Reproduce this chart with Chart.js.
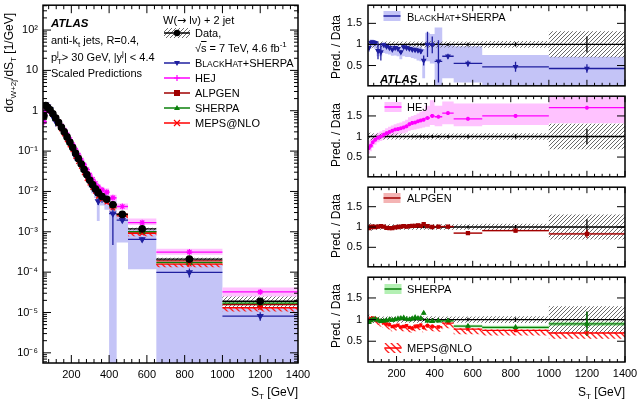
<!DOCTYPE html>
<html>
<head>
<meta charset="utf-8">
<script src="https://cdn.jsdelivr.net/npm/chart.js@4.4.1/dist/chart.umd.min.js"></script>
<style>
  body { margin: 0; background: #fff; }
  #wrap { position: relative; width: 638px; height: 403px; overflow: hidden; font-family: "Liberation Sans", Arial, sans-serif; color: #000; }
  canvas { position: absolute; }
  .t { position: absolute; white-space: nowrap; font-size: 11px; line-height: 12px; }
  .t sub, .t sup { font-size: 8px; line-height: 0; }
  .rot { transform: rotate(-90deg); transform-origin: 0 0; text-align: right; font-size: 12px; }
  .atlas { font-weight: bold; font-style: italic; font-size: 11.5px; }
  .sc { font-size: 8.5px; }
  .ax { font-size: 12px; text-align: right; width: 80px; }
  .dv { font-family: "DejaVu Sans", sans-serif; font-size: 11px; }
</style>
</head>
<body>
<div id="wrap">
  <canvas id="main" width="320" height="403" style="left:0;top:0"></canvas>
  <canvas id="r1" width="318" height="91" style="left:320px;top:0"></canvas>
  <canvas id="r2" width="318" height="91" style="left:320px;top:91px"></canvas>
  <canvas id="r3" width="318" height="90" style="left:320px;top:182px"></canvas>
  <canvas id="r4" width="318" height="131" style="left:320px;top:272px"></canvas>

  <div class="t rot" style="left:3px;top:113px;width:100px">d&sigma;<sub>W+2j</sub>/dS<sub>T</sub> [1/GeV]</div>
  <div class="t ax" style="left:218px;top:386px">S<sub>T</sub> [GeV]</div>
  <div class="t ax" style="left:545px;top:386px">S<sub>T</sub> [GeV]</div>

  <div class="t atlas" style="left:51px;top:17px">ATLAS</div>
  <div class="t" style="left:51px;top:34px">anti-k<sub>t</sub> jets, R=0.4,</div>
  <div class="t" style="left:51px;top:51px">p<sub>T</sub><sup style="margin-left:-5px">j</sup> &gt; 30 GeV, |y<sup>j</sup>| &lt; 4.4</div>
  <div class="t" style="left:51px;top:67px">Scaled Predictions</div>

  <div class="t" style="left:163px;top:14px">W(<span class="dv">&rarr;</span> l&nu;) + 2 jet</div>
  <div class="t" style="left:195px;top:27px">Data,</div>
  <div class="t" style="left:195px;top:42px">&radic;<span style="text-decoration:overline">s</span> = 7 TeV, 4.6 fb<sup>-1</sup></div>
  <div class="t" style="left:195px;top:57px">B<span class="sc">LACK</span>H<span class="sc">AT</span>+SHERPA</div>
  <div class="t" style="left:195px;top:72px">HEJ</div>
  <div class="t" style="left:195px;top:87px">ALPGEN</div>
  <div class="t" style="left:195px;top:102px">SHERPA</div>
  <div class="t" style="left:195px;top:117px">MEPS@NLO</div>

  <div class="t rot" style="left:330px;top:83px;width:68px">Pred. / Data</div>
  <div class="t rot" style="left:330px;top:171px;width:68px">Pred. / Data</div>
  <div class="t rot" style="left:330px;top:262px;width:68px">Pred. / Data</div>
  <div class="t rot" style="left:330px;top:352px;width:68px">Pred. / Data</div>

  <div class="t" style="left:407px;top:11px">B<span class="sc">LACK</span>H<span class="sc">AT</span>+SHERPA</div>
  <div class="t atlas" style="left:380px;top:73px">ATLAS</div>
  <div class="t" style="left:407px;top:101px">HEJ</div>
  <div class="t" style="left:407px;top:192px">ALPGEN</div>
  <div class="t" style="left:407px;top:283px">SHERPA</div>
  <div class="t" style="left:407px;top:342px">MEPS@NLO</div>
</div>
<script>
// S_T bins [GeV]
const binLo = [50, 60, 70, 80, 95, 110, 125, 140, 155, 170, 185, 200, 215, 230, 245, 260, 275, 290, 305, 320, 335, 350, 375, 400, 440, 500, 650, 1000];
const binHi = [60, 70, 80, 95, 110, 125, 140, 155, 170, 185, 200, 215, 230, 245, 260, 275, 290, 305, 320, 335, 350, 375, 400, 440, 500, 650, 1000, 1400];

// measured cross section [1/GeV] and relative uncertainties
const dataXs = [0.75, 1.35, 1.2, 1.05, 0.84, 0.66, 0.51, 0.39, 0.30, 0.225, 0.165, 0.122, 0.088, 0.065, 0.048, 0.035, 0.026, 0.019, 0.0146, 0.0115, 0.0092, 0.0075, 0.0064, 0.0047, 0.0027, 0.00118, 0.00021, 0.000019];
const dataStat = [0.015, 0.01, 0.01, 0.01, 0.01, 0.01, 0.01, 0.01, 0.01, 0.012, 0.012, 0.014, 0.015, 0.017, 0.02, 0.02, 0.022, 0.025, 0.027, 0.03, 0.03, 0.03, 0.035, 0.03, 0.035, 0.04, 0.05, 0.19];
const dataSys = [0.11, 0.09, 0.08, 0.075, 0.07, 0.07, 0.07, 0.07, 0.07, 0.07, 0.07, 0.07, 0.07, 0.07, 0.07, 0.07, 0.07, 0.07, 0.07, 0.07, 0.07, 0.07, 0.075, 0.07, 0.07, 0.07, 0.08, 0.31];

// prediction / data
const bhRatio = [0.92, 1.05, 1.06, 1.04, 0.85, 0.82, 0.99, 0.95, 0.92, 0.88, 0.92, 0.90, 0.82, 0.94, 0.92, 0.90, 0.88, 0.87, 0.86, 0.84, 0.62, 1.0, 0.99, 0.60, 0.72, 0.55, 0.47, 0.43];
const bhErr = [0.05, 0.03, 0.03, 0.03, 0.2, 0.2, 0.03, 0.03, 0.03, 0.03, 0.04, 0.04, 0.04, 0.04, 0.04, 0.04, 0.05, 0.05, 0.05, 0.06, 0.12, 0.3, 0.2, 0.5, 0.06, 0.07, 0.12, 0.1];
const bhLo = [0.82, 0.95, 0.95, 0.9, 0.72, 0.72, 0.8, 0.78, 0.76, 0.73, 0.74, 0.72, 0.65, 0.72, 0.7, 0.7, 0.68, 0.66, 0.62, 0.6, 0.2, 0.6, 0.55, 0.0, 0.2, 0.1, 0.0, 0.0];
const bhHi = [1.05, 1.12, 1.12, 1.1, 1.0, 1.0, 1.05, 1.02, 1.0, 0.98, 0.98, 0.98, 0.95, 1.0, 0.98, 0.98, 0.97, 0.96, 0.96, 0.95, 0.9, 1.28, 1.25, 1.4, 0.98, 0.96, 0.75, 0.71];

const hejRatio = [0.72, 0.78, 0.86, 0.92, 0.97, 1.0, 1.04, 1.08, 1.11, 1.14, 1.17, 1.18, 1.2, 1.22, 1.25, 1.3, 1.33, 1.34, 1.37, 1.39, 1.41, 1.45, 1.5, 1.48, 1.57, 1.43, 1.5, 1.7];
const hejErr = [0.02, 0.015, 0.015, 0.015, 0.015, 0.015, 0.015, 0.015, 0.015, 0.015, 0.015, 0.015, 0.015, 0.015, 0.015, 0.015, 0.015, 0.015, 0.015, 0.015, 0.015, 0.02, 0.02, 0.02, 0.02, 0.01, 0.01, 0.01];
const hejLo = [0.58, 0.64, 0.72, 0.8, 0.86, 0.89, 0.93, 0.96, 0.99, 1.01, 1.04, 1.05, 1.07, 1.08, 1.1, 1.14, 1.16, 1.17, 1.19, 1.2, 1.22, 1.24, 1.28, 1.25, 1.3, 1.25, 1.28, 1.32];
const hejHi = [0.9, 0.95, 1.0, 1.05, 1.09, 1.12, 1.16, 1.2, 1.24, 1.27, 1.3, 1.32, 1.34, 1.37, 1.41, 1.47, 1.5, 1.52, 1.56, 1.6, 1.63, 1.75, 1.88, 1.75, 1.85, 1.8, 1.8, 2.2];

const alpRatio = [0.97, 1.0, 1.01, 1.0, 1.01, 1.02, 1.01, 0.98, 0.97, 0.97, 0.99, 1.0, 1.01, 1.02, 1.01, 1.02, 1.03, 1.03, 1.04, 1.03, 1.07, 1.02, 1.0, 1.01, 1.01, 0.85, 0.91, 0.83];
const alpErr = [0.02, 0.01, 0.01, 0.01, 0.01, 0.01, 0.01, 0.01, 0.01, 0.01, 0.01, 0.01, 0.01, 0.01, 0.01, 0.01, 0.01, 0.01, 0.015, 0.015, 0.02, 0.02, 0.02, 0.02, 0.02, 0.03, 0.04, 0.1];
const alpUnc = [0.04, 0.03, 0.03, 0.03, 0.03, 0.03, 0.03, 0.03, 0.03, 0.03, 0.03, 0.03, 0.03, 0.03, 0.03, 0.03, 0.03, 0.03, 0.03, 0.03, 0.03, 0.03, 0.03, 0.03, 0.03, 0.02, 0.02, 0.03];

const shRatio = [0.94, 0.98, 1.0, 1.01, 0.99, 0.96, 0.97, 0.98, 1.0, 0.99, 1.0, 1.02, 1.03, 1.04, 1.01, 1.0, 1.02, 1.05, 1.03, 1.03, 1.15, 0.97, 0.96, 0.97, 0.97, 0.85, 0.82, 0.9];
const shErr = [0.03, 0.02, 0.02, 0.02, 0.02, 0.02, 0.02, 0.02, 0.02, 0.02, 0.02, 0.02, 0.02, 0.02, 0.02, 0.02, 0.02, 0.03, 0.03, 0.03, 0.04, 0.04, 0.04, 0.03, 0.03, 0.03, 0.06, 0.28];
const shUnc = [0.03, 0.03, 0.03, 0.03, 0.03, 0.03, 0.03, 0.03, 0.03, 0.03, 0.03, 0.03, 0.03, 0.03, 0.03, 0.03, 0.03, 0.03, 0.03, 0.03, 0.03, 0.03, 0.03, 0.03, 0.03, 0.03, 0.04, 0.05];

const mepsRatio = [1.0, 1.03, 1.04, 1.02, 0.98, 0.95, 0.92, 0.9, 0.88, 0.84, 0.85, 0.87, 0.83, 0.84, 0.86, 0.82, 0.8, 0.84, 0.85, 0.87, 0.82, 0.86, 0.84, 0.83, 0.92, 0.78, 0.75, 0.69];
const mepsErr = [0.04, 0.03, 0.03, 0.03, 0.03, 0.03, 0.03, 0.04, 0.04, 0.04, 0.04, 0.04, 0.04, 0.04, 0.04, 0.04, 0.05, 0.05, 0.05, 0.05, 0.05, 0.05, 0.05, 0.04, 0.04, 0.03, 0.04, 0.06];
const mepsLo = [0.9, 0.92, 0.93, 0.91, 0.87, 0.84, 0.81, 0.79, 0.77, 0.73, 0.74, 0.76, 0.72, 0.73, 0.75, 0.71, 0.69, 0.73, 0.74, 0.76, 0.71, 0.75, 0.73, 0.72, 0.8, 0.66, 0.63, 0.56];
const mepsHi = [1.02, 1.05, 1.06, 1.04, 1.0, 0.97, 0.94, 0.92, 0.9, 0.86, 0.87, 0.89, 0.85, 0.86, 0.88, 0.84, 0.82, 0.86, 0.87, 0.89, 0.84, 0.88, 0.86, 0.85, 0.94, 0.8, 0.77, 0.71];

// axes
const xTickVals = [200, 400, 600, 800, 1000, 1200, 1400];
const yLogTicks = [1e-6, 1e-5, 1e-4, 1e-3, 1e-2, 1e-1, 1, 10, 100];
const yLogLabels = ['10⁻⁶', '10⁻⁵', '10⁻⁴', '10⁻³', '10⁻²', '10⁻¹', '1', '10', '10²'];
const ratioTicks = [0.5, 1, 1.5];
const ratioLabels = ['0.5', '1', '1.5'];

const cBH = '#1f1f9f', cBHband = '#c4c4f7';
const cHEJ = '#ff00ff', cHEJband = '#ffc2ff';
const cALP = '#a00000', cALPband = '#f4b4b4';
const cSH = '#0b800b', cSHband = '#b4f0b4';
const cMEPS = '#ff0000';
const font = { family: '"Liberation Sans", Arial, sans-serif', size: 11 };

const mid = binLo.map((lo, i) => (lo + binHi[i]) / 2);
const LOGFLOOR = 1e-9;

function hatch(color, size, width, dir) {
  const c = document.createElement('canvas');
  c.width = size; c.height = size;
  const g = c.getContext('2d');
  g.strokeStyle = color; g.lineWidth = width;
  g.beginPath();
  if (dir > 0) {
    g.moveTo(-1, size + 1); g.lineTo(size + 1, -1);
    g.moveTo(-size / 2, size / 2); g.lineTo(size / 2, -size / 2);
    g.moveTo(size / 2, size * 1.5); g.lineTo(size * 1.5, size / 2);
  } else {
    g.moveTo(-1, -1); g.lineTo(size + 1, size + 1);
    g.moveTo(-size / 2, size / 2); g.lineTo(size / 2, size * 1.5);
    g.moveTo(size / 2, -size / 2); g.lineTo(size * 1.5, size / 2);
  }
  g.stroke();
  return g.createPattern(c, 'repeat');
}
const greyHatch = hatch('#444', 4, 0.8, 1);
const redHatch = hatch('#ff2020', 6, 1.3, -1);

function steps(vals, floor) {
  const pts = [];
  vals.forEach((v, i) => {
    const y = floor ? Math.max(v, floor) : v;
    pts.push({ x: binLo[i], y }, { x: binHi[i], y });
  });
  return pts;
}

function bandSet(lo, hi, fill, order, floor) {
  return {
    data: steps(hi, floor).concat(steps(lo, floor).reverse()),
    fill: 'shape', backgroundColor: fill, borderColor: 'transparent', borderWidth: 0,
    pointRadius: 0, order
  };
}

function barSet(vals, lo, hi, color, order, floor) {
  const pts = [];
  const f = v => floor ? Math.max(v, floor) : v;
  vals.forEach((v, i) => {
    pts.push({ x: binLo[i], y: v }, { x: binHi[i], y: v }, { x: binHi[i], y: null });
    pts.push({ x: mid[i], y: f(lo[i]) }, { x: mid[i], y: f(hi[i]) }, { x: mid[i], y: null });
  });
  return { data: pts, borderColor: color, borderWidth: 1.3, pointRadius: 0, fill: false, spanGaps: false, order };
}

function markSet(vals, style, color, r, rot, order) {
  return {
    data: vals.map((v, i) => ({ x: mid[i], y: v })), showLine: false,
    pointStyle: style, pointRadius: r, pointRotation: rot || 0,
    backgroundColor: color, borderColor: color, borderWidth: 1.2, order
  };
}

function drawMark(ctx, m, x, y, r, c) {
  ctx.fillStyle = c; ctx.strokeStyle = c; ctx.lineWidth = 1.2;
  ctx.beginPath();
  if (m === 'circle') { ctx.arc(x, y, r, 0, Math.PI * 2); ctx.fill(); }
  else if (m === 'rect') { ctx.fillRect(x - r, y - r, 2 * r, 2 * r); }
  else if (m === 'tri' || m === 'tridown') {
    const d = m === 'tri' ? -1 : 1;
    ctx.moveTo(x, y + d * r); ctx.lineTo(x - r, y - d * r * 0.7); ctx.lineTo(x + r, y - d * r * 0.7);
    ctx.closePath(); ctx.fill();
  }
  else if (m === 'cross') { ctx.moveTo(x - r, y - r); ctx.lineTo(x + r, y + r); ctx.moveTo(x + r, y - r); ctx.lineTo(x - r, y + r); ctx.stroke(); }
  else if (m === 'star') { ctx.moveTo(x - r, y); ctx.lineTo(x + r, y); ctx.moveTo(x, y - r); ctx.lineTo(x, y + r); ctx.stroke(); }
}

// legend symbols (not data, fixed spots in the pad)
const symPlugin = {
  id: 'syms',
  afterDraw(chart, args, o) {
    const ctx = chart.ctx;
    (o.items || []).forEach(s => {
      ctx.save();
      if (s.box) { ctx.fillStyle = s.box; ctx.fillRect(s.x - s.w / 2, s.y - 5, s.w, 10); }
      if (s.line) {
        ctx.strokeStyle = s.line; ctx.lineWidth = 1.5;
        ctx.beginPath(); ctx.moveTo(s.x - s.w / 2, s.y); ctx.lineTo(s.x + s.w / 2, s.y); ctx.stroke();
      }
      if (s.mark) drawMark(ctx, s.mark, s.x, s.y, s.r || 3, s.line);
      ctx.restore();
    });
  }
};

// ROOT style frame with ticks pointing inwards on all four sides
const framePlugin = {
  id: 'frame',
  afterDraw(chart, args, o) {
    const { ctx, chartArea: a } = chart;
    const xs = chart.scales.x, ys = chart.scales.y;
    ctx.save();
    ctx.strokeStyle = '#000'; ctx.lineWidth = 1;
    ctx.beginPath();
    for (let v = 80; v <= 1400; v += 40) {
      const p = xs.getPixelForValue(v);
      const len = xTickVals.includes(v) ? o.xMaj : o.xMin;
      ctx.moveTo(p, a.bottom); ctx.lineTo(p, a.bottom - len);
      ctx.moveTo(p, a.top); ctx.lineTo(p, a.top + len);
    }
    const yt = (v, len) => {
      const p = ys.getPixelForValue(v);
      if (p < a.top || p > a.bottom) return;
      ctx.moveTo(a.left, p); ctx.lineTo(a.left + len, p);
      ctx.moveTo(a.right, p); ctx.lineTo(a.right - len, p);
    };
    o.yMajor.forEach(v => yt(v, o.yMaj));
    if (o.log) {
      for (let e = -7; e <= 2; e++) for (let k = 2; k <= 9; k++) yt(k * Math.pow(10, e), o.yMin);
    }
    ctx.stroke();
    ctx.lineWidth = 1.5;
    ctx.strokeRect(a.left, a.top, a.right - a.left, a.bottom - a.top);
    ctx.restore();
  }
};

function xScale(show, h) {
  return {
    type: 'linear', min: 50, max: 1400, bounds: 'data', display: show,
    afterBuildTicks: s => { s.ticks = xTickVals.map(v => ({ value: v })); },
    afterFit: s => { s.height = show ? h : 0; s.paddingLeft = 0; s.paddingRight = 0; },
    grid: { display: false, drawTicks: false }, border: { display: false },
    ticks: { font, color: '#000', padding: 5, autoSkip: false, maxRotation: 0, callback: v => String(v) }
  };
}

function yFit(w) {
  return s => { s.width = w; s.paddingTop = 0; s.paddingBottom = 0; };
}

// ---------- main cross-section pad ----------
const abs = r => r.map((v, i) => v * dataXs[i]);
const absErr = (r, e, s) => r.map((v, i) => (v + s * e[i]) * dataXs[i]);
const ones = dataXs.map(() => 1);

const mainSets = [
  bandSet(abs(bhLo), abs(bhHi), cBHband, 90, LOGFLOOR),
  bandSet(abs(hejLo), abs(hejHi), cHEJband, 89, LOGFLOOR),
  bandSet(absErr(alpRatio, alpUnc, -1), absErr(alpRatio, alpUnc, 1), cALPband, 88, LOGFLOOR),
  bandSet(absErr(shRatio, shUnc, -1), absErr(shRatio, shUnc, 1), cSHband, 87, LOGFLOOR),
  bandSet(abs(mepsLo), abs(mepsHi), redHatch, 86, LOGFLOOR),
  bandSet(absErr(ones, dataSys, -1), absErr(ones, dataSys, 1), greyHatch, 85, LOGFLOOR),
  barSet(abs(bhRatio), absErr(bhRatio, bhErr, -1), absErr(bhRatio, bhErr, 1), cBH, 60, LOGFLOOR),
  barSet(abs(hejRatio), absErr(hejRatio, hejErr, -1), absErr(hejRatio, hejErr, 1), cHEJ, 59, LOGFLOOR),
  barSet(abs(alpRatio), absErr(alpRatio, alpErr, -1), absErr(alpRatio, alpErr, 1), cALP, 58, LOGFLOOR),
  barSet(abs(shRatio), absErr(shRatio, shErr, -1), absErr(shRatio, shErr, 1), cSH, 57, LOGFLOOR),
  barSet(abs(mepsRatio), absErr(mepsRatio, mepsErr, -1), absErr(mepsRatio, mepsErr, 1), cMEPS, 56, LOGFLOOR),
  markSet(abs(bhRatio), 'triangle', cBH, 3, 180, 40),
  markSet(abs(hejRatio), 'star', cHEJ, 3, 0, 39),
  markSet(abs(alpRatio), 'rect', cALP, 3, 0, 38),
  markSet(abs(shRatio), 'triangle', cSH, 3, 0, 37),
  markSet(abs(mepsRatio), 'crossRot', cMEPS, 3, 0, 36),
  barSet(dataXs, absErr(ones, dataStat, -1), absErr(ones, dataStat, 1), '#000', 20, LOGFLOOR),
  markSet(dataXs, 'circle', '#000', 3.2, 0, 10)
];

new Chart(document.getElementById('main'), {
  type: 'line',
  data: { datasets: mainSets },
  plugins: [framePlugin, symPlugin],
  options: {
    responsive: false, animation: false, events: [],
    layout: { padding: { top: 3, right: 22, bottom: 0, left: 0 } },
    plugins: {
      legend: { display: false }, tooltip: { enabled: false },
      frame: { xMaj: 8, xMin: 4, yMaj: 8, yMin: 4, yMajor: yLogTicks, log: true },
      syms: {
        items: [
          { x: 177, y: 33, w: 26, box: greyHatch, line: '#000', mark: 'circle', r: 3.2 },
          { x: 177, y: 63, w: 26, line: cBH, mark: 'tridown' },
          { x: 177, y: 78, w: 26, line: cHEJ, mark: 'star' },
          { x: 177, y: 93, w: 26, line: cALP, mark: 'rect' },
          { x: 177, y: 108, w: 26, line: cSH, mark: 'tri' },
          { x: 177, y: 123, w: 26, line: cMEPS, mark: 'cross' }
        ]
      }
    },
    scales: {
      x: xScale(true, 40),
      y: {
        type: 'logarithmic', min: 5.6e-7, max: 413, bounds: 'data',
        afterBuildTicks: s => { s.ticks = yLogTicks.map(v => ({ value: v })); },
        afterFit: yFit(43),
        grid: { display: false, drawTicks: false }, border: { display: false },
        ticks: { font, color: '#000', padding: 5, autoSkip: false, callback: (v, i) => yLogLabels[i] }
      }
    }
  }
});

// ---------- ratio pads ----------
const dataRatioSets = [
  bandSet(ones.map((v, i) => v - dataSys[i]), ones.map((v, i) => v + dataSys[i]), greyHatch, 85),
  barSet(ones, ones.map((v, i) => v - dataStat[i]), ones.map((v, i) => v + dataStat[i]), '#000', 45)
];
const minus = (r, e) => r.map((v, i) => v - e[i]);
const plus = (r, e) => r.map((v, i) => v + e[i]);

function ratioPad(id, sets, syms, showX, yMax, padTop) {
  new Chart(document.getElementById(id), {
    type: 'line',
    data: { datasets: sets.concat(dataRatioSets) },
    plugins: [framePlugin, symPlugin],
    options: {
      responsive: false, animation: false, events: [],
      layout: { padding: { top: padTop, right: 13, bottom: 0, left: 0 } },
      plugins: {
        legend: { display: false }, tooltip: { enabled: false },
        frame: { xMaj: 6, xMin: 3, yMaj: 8, yMin: 4, yMajor: ratioTicks },
        syms: { items: syms }
      },
      scales: {
        x: xScale(showX, 41),
        y: {
          type: 'linear', min: 0.02, max: yMax, bounds: 'data',
          afterBuildTicks: s => { s.ticks = ratioTicks.map(v => ({ value: v })); },
          afterFit: yFit(48),
          grid: { display: false, drawTicks: false }, border: { display: false },
          ticks: { font, color: '#000', padding: 6, autoSkip: false, callback: (v, i) => ratioLabels[i] }
        }
      }
    }
  });
}

ratioPad('r1', [
  bandSet(bhLo, bhHi, cBHband, 90),
  barSet(bhRatio, minus(bhRatio, bhErr), plus(bhRatio, bhErr), cBH, 30),
  markSet(bhRatio, 'triangle', cBH, 2.2, 180, 20)
], [{ x: 72, y: 16, w: 17, box: cBHband, line: cBH }], false, 1.93, 3);

ratioPad('r2', [
  bandSet(hejLo, hejHi, cHEJband, 90),
  barSet(hejRatio, minus(hejRatio, hejErr), plus(hejRatio, hejErr), cHEJ, 30),
  markSet(hejRatio, 'star', cHEJ, 2, 0, 20)
], [{ x: 73, y: 16, w: 17, box: cHEJband, line: cHEJ }], false, 1.98, 0);

ratioPad('r3', [
  bandSet(minus(alpRatio, alpUnc), plus(alpRatio, alpUnc), cALPband, 90),
  barSet(alpRatio, minus(alpRatio, alpErr), plus(alpRatio, alpErr), cALP, 30),
  markSet(alpRatio, 'rect', cALP, 2.2, 0, 20)
], [{ x: 72, y: 16, w: 17, box: cALPband, line: cALP }], false, 1.98, 0);

ratioPad('r4', [
  bandSet(minus(shRatio, shUnc), plus(shRatio, shUnc), cSHband, 90),
  bandSet(mepsLo, mepsHi, redHatch, 88),
  barSet(shRatio, minus(shRatio, shErr), plus(shRatio, shErr), cSH, 30),
  barSet(mepsRatio, minus(mepsRatio, mepsErr), plus(mepsRatio, mepsErr), cMEPS, 31),
  markSet(shRatio, 'triangle', cSH, 2.2, 0, 20),
  markSet(mepsRatio, 'crossRot', cMEPS, 2.2, 0, 21)
], [
  { x: 73, y: 17, w: 17, box: cSHband, line: cSH },
  { x: 73, y: 76, w: 17, box: redHatch, line: cMEPS }
], true, 1.98, 0);
</script>
</body>
</html>
